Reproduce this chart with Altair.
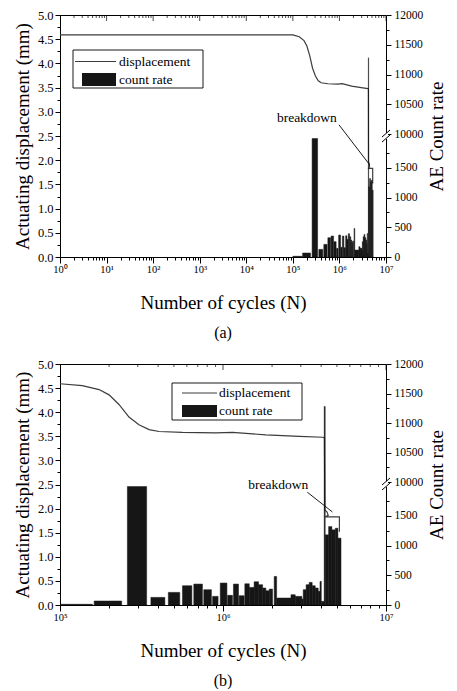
import altair as alt
import pandas as pd

FONT = "Liberation Serif"

# ---------------- data ----------------
# AE count-rate bins: start cycle, end cycle, count rate
bar_start = [100000, 162000, 259000, 361000, 462000, 564000, 662000, 762000, 863000, 962000,
             1067000, 1159000, 1256000, 1361000, 1449000, 1552000, 1652000, 1750000, 1832000, 1923000,
             2061000, 2133000, 2612000, 2773000, 3048000, 3105000, 3236000, 3381000, 3524000, 3681000,
             3837000, 3936000, 4009000, 4178000, 4236000, 4446000, 4656000, 4887000, 5070000]
bar_end = [158000, 239000, 340000, 440000, 543000, 644000, 748000, 849000, 933000, 1057000,
           1143000, 1245000, 1349000, 1449000, 1552000, 1652000, 1750000, 1832000, 1923000, 2014000,
           2133000, 2612000, 2773000, 3048000, 3105000, 3236000, 3381000, 3524000, 3681000, 3837000,
           3936000, 4009000, 4178000, 4236000, 4446000, 4656000, 4887000, 5070000, 5297000]
bar_count = [12, 67, 1990, 128, 212, 324, 352, 257, 145, 369,
             162, 352, 156, 357, 296, 391, 341, 285, 240, 268,
             480, 117, 173, 145, 100, 257, 341, 380, 324, 285,
             229, 397, 61, 11280, 1179, 1318, 1263, 1290, 1123]

# actuating displacement curve
disp_cycles = [1, 100000, 137000, 173600, 200000, 230000, 265000, 305000, 352000, 405000,
               564000, 903000, 1143000, 1832000, 2938000, 4083000, 4190000, 4215000, 4350000, 4420000,
               4240000, 5176000, 5180000]
disp_mm = [4.59, 4.59, 4.55, 4.47, 4.36, 4.16, 3.90, 3.74, 3.64, 3.60,
           3.58, 3.57, 3.58, 3.53, 3.50, 3.48, 3.47, 1.97, 1.93, 1.86,
           1.83, 1.83, 1.52]

# axis tick values
left_ticks = [0, 0.25, 0.5, 0.75, 1.0, 1.25, 1.5, 1.75, 2.0, 2.25, 2.5, 2.75, 3.0,
              3.25, 3.5, 3.75, 4.0, 4.25, 4.5, 4.75, 5.0]
right_ticks = [0, 250, 500, 750, 1000, 1250, 1500, 1750,
               10000, 10250, 10500, 10750, 11000, 11250, 11500, 11750, 12000]
decades_a = [1, 10, 100, 1000, 10000, 100000, 1000000, 10000000]
decades_b = [100000, 1000000, 10000000]

bars = pd.DataFrame({"start": bar_start, "end": bar_end, "count": bar_count})
disp = pd.DataFrame({"n": disp_cycles, "mm": disp_mm, "idx": list(range(len(disp_cycles)))})

W = 326
IS_MAJOR = "abs(log(datum.value)/LN10 - round(log(datum.value)/LN10)) < 1e-6"
SUP = "['\u2070','\u00b9','\u00b2','\u00b3','\u2074','\u2075','\u2076','\u2077'][round(log(datum.value)/LN10)]"
HALF = "abs(datum.value*2 - round(datum.value*2)) < 1e-6"
FIVE = "datum.value % 500 == 0"


def panel(xmin, decades, H, ann, leg, caption):
    minors = [m * d for d in decades[:-1] for m in range(2, 10)]
    ticks = sorted(decades + minors)
    xscale = alt.Scale(type="log", domain=[xmin, 10000000], nice=False)
    xaxis = alt.Axis(values=ticks, labelExpr=f"({IS_MAJOR}) ? '10' + {SUP} : ''",
                     tickSize={"condition": {"test": IS_MAJOR, "value": 6}, "value": 3},
                     title="Number of cycles (N)", titleFontSize=19, labelFontSize=10.5,
                     labelPadding=1, titlePadding=19, labelFlush=False, labelOverlap=False)
    yaxis = alt.Axis(values=left_ticks, labelExpr=f"({HALF}) ? format(datum.value, '.1f') : ''",
                     tickSize={"condition": {"test": HALF, "value": 5}, "value": 3},
                     title="Actuating displacement (mm)", titleFontSize=19, labelFontSize=12.5,
                     labelPadding=2, titlePadding=5, labelOverlap=False)
    raxis = alt.Axis(values=right_ticks, orient="right",
                     labelExpr=f"({FIVE}) ? format(datum.value, 'd') : ''",
                     tickSize={"condition": {"test": FIVE, "value": 5}, "value": 3},
                     title="AE Count rate", titleFontSize=19, titleAngle=270, titleBaseline="top",
                     labelFontSize=11.5, labelPadding=3, titlePadding=5, labelOverlap=False,
                     domain=False)
    mmscale = alt.Scale(domain=[0, 5], nice=False, zero=False)
    cscale = alt.Scale(domain=[0, 2000, 10000, 12000], range=[H, H - 119, H - 123, 0],
                       nice=False, zero=False)
    X = lambda f: alt.X(f, scale=xscale, axis=xaxis)
    Y = lambda f: alt.Y(f, scale=mmscale, axis=yaxis)

    line = alt.Chart(disp).mark_line(color="#3c3c3c", strokeWidth=1.2, clip=True).encode(
        x=X("n:Q"), y=Y("mm:Q"), order="idx:Q")

    one = pd.DataFrame({"d": [0]})
    txt = alt.Chart(pd.DataFrame({"n": [ann[0]], "mm": [ann[1]], "t": ["breakdown"]})).mark_text(
        font=FONT, fontSize=13.5, color="black", align="center", baseline="middle").encode(
        x=X("n:Q"), y=Y("mm:Q"), text="t:N")
    arrow = alt.Chart(pd.DataFrame({"n": [ann[2]], "mm": [ann[3]], "n2": [ann[4]], "m2": [ann[5]]})).mark_rule(
        color="black", strokeWidth=0.9).encode(
        x=X("n:Q"), x2="n2:Q", y=Y("mm:Q"), y2="m2:Q")

    top_major = alt.Chart(pd.DataFrame({"n": decades})).mark_tick(
        color="black", size=12, thickness=1, clip=True).encode(x=X("n:Q"), y=alt.value(0))
    top_minor = alt.Chart(pd.DataFrame({"n": minors})).mark_tick(
        color="black", size=6, thickness=1, clip=True).encode(x=X("n:Q"), y=alt.value(0))

    left = alt.layer(line, txt, arrow, top_major, top_minor)

    barl = alt.Chart(bars).mark_rect(color="#161616", stroke="#161616", strokeWidth=0.5, clip=True).encode(
        x=X("start:Q"), x2="end:Q",
        y=alt.Y("count:Q", scale=cscale, axis=raxis), y2=alt.datum(0))
    right = alt.layer(barl)

    # decorations: axis break and legend
    yb = H - 121
    deco = [
        alt.Chart(one).mark_rect(color="white").encode(
            x=alt.value(W - 2), x2=alt.value(W + 2), y=alt.value(yb - 3), y2=alt.value(yb + 3)),
        alt.Chart(one).mark_rule(color="black", strokeWidth=1).encode(
            x=alt.value(W - 4), x2=alt.value(W + 4), y=alt.value(yb + 1), y2=alt.value(yb - 6)),
        alt.Chart(one).mark_rule(color="black", strokeWidth=1).encode(
            x=alt.value(W - 4), x2=alt.value(W + 4), y=alt.value(yb + 6), y2=alt.value(yb - 1)),
        # legend box
        alt.Chart(one).mark_rect(fill="white", stroke="black", strokeWidth=0.9).encode(
            x=alt.value(leg["box"][0]), x2=alt.value(leg["box"][2]),
            y=alt.value(leg["box"][1]), y2=alt.value(leg["box"][3])),
        alt.Chart(one).mark_rule(color="#3c3c3c", strokeWidth=1.2).encode(
            x=alt.value(leg["line"][0]), x2=alt.value(leg["line"][1]),
            y=alt.value(leg["line"][2]), y2=alt.value(leg["line"][2])),
        alt.Chart(one).mark_rect(color="#161616").encode(
            x=alt.value(leg["rect"][0]), x2=alt.value(leg["rect"][1]),
            y=alt.value(leg["rect"][2]), y2=alt.value(leg["rect"][3])),
        alt.Chart(one).mark_text(font=FONT, fontSize=13.5, color="black", align="left",
                                 baseline="middle", text="displacement").encode(
            x=alt.value(leg["tx"]), y=alt.value(leg["ty"][0])),
        alt.Chart(one).mark_text(font=FONT, fontSize=13.5, color="black", align="left",
                                 baseline="middle", text="count rate").encode(
            x=alt.value(leg["tx"]), y=alt.value(leg["ty"][1])),
    ]
    deco_layer = alt.layer(*deco)

    return alt.layer(left, right, deco_layer).resolve_scale(y="independent").properties(
        width=W, height=H,
        title=alt.TitleParams(caption, orient="bottom", anchor="middle", fontSize=16,
                              font=FONT, fontWeight="normal", offset=12))


leg_a = {"box": (13, 35, 143, 73), "line": (15, 56, 46.5), "rect": (22, 56, 58, 71),
         "tx": 59, "ty": (46.5, 64.5)}
leg_b = {"box": (112, 19, 242, 56), "line": (122, 157, 29), "rect": (122, 157, 41, 53),
         "tx": 159, "ty": (29, 47)}

ann_a = (200000, 2.87, 980000, 2.73, 4500000, 1.90)
ann_b = (2180000, 2.50, 3290000, 2.34, 4690000, 1.93)

pa = panel(1, decades_a, 242, ann_a, leg_a, "(a)")
pb = panel(100000, decades_b, 241, ann_b, leg_b, "(b)")

chart = alt.vconcat(pa, pb, spacing=16).properties(
    padding={"left": 4, "top": 0, "right": 0, "bottom": 0}
).configure_view(stroke="black", strokeWidth=1).configure_axis(
    domainColor="black", tickColor="black", labelColor="black", titleColor="black",
    labelFont=FONT, titleFont=FONT, titleFontWeight="normal", grid=False, tickWidth=1,
    domainWidth=1
).configure_title(font=FONT, color="black")

chart.save("out.html", embed_options={"renderer": "svg", "actions": False})
